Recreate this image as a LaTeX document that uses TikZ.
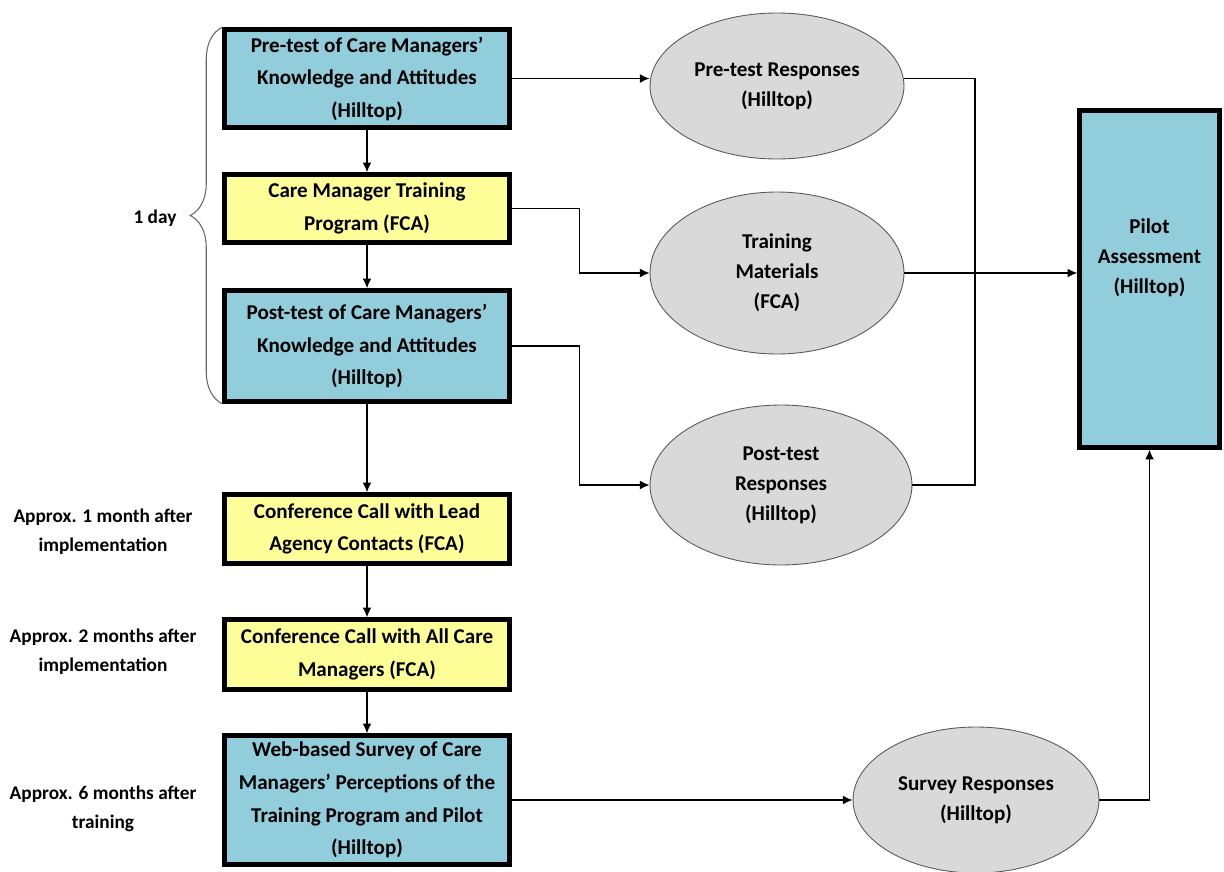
\documentclass[tikz,border=0pt]{standalone}
\usepackage{fontspec}
\setmainfont{Carlito}
\usetikzlibrary{shapes.geometric,decorations.pathreplacing,arrows.meta}
\definecolor{boxblue}{HTML}{92CDDC}
\definecolor{boxyellow}{HTML}{FFFF99}
\definecolor{ovalgray}{HTML}{D9D9D9}
\tikzstyle{bluebox}=[rectangle,draw,line width=2.6pt,fill=boxblue,align=center,minimum width=5.7cm,inner sep=0pt,font=\bfseries\fontsize{12}{18.5}\selectfont]
\tikzstyle{yellowbox}=[bluebox,fill=boxyellow]
\tikzstyle{oval}=[ellipse,draw=black!65,line width=0.5pt,fill=ovalgray,align=center,inner sep=0pt,font=\bfseries\fontsize{12}{17}\selectfont]
\tikzstyle{note}=[align=center,font=\bfseries\fontsize{11}{16.5}\selectfont]

\begin{document}
\begin{tikzpicture}[x=0.02cm,y=-0.02cm,>={Latex[length=5.5pt,width=5pt]},line width=0.7pt]
\useasboundingbox (0,0) rectangle (1224,872);
\node[bluebox,minimum height=1.96cm] at (367,78.5) (pre) {Pre-test of Care Managers’\\Knowledge and Attitudes\\(Hilltop)};
\node[yellowbox,minimum height=1.36cm] at (367,208.5) (train) {Care Manager Training\\Program (FCA)};
\node[bluebox,minimum height=2.22cm] at (367,346) (post) {Post-test of Care Managers’\\Knowledge and Attitudes\\(Hilltop)};
\node[yellowbox,minimum height=1.38cm] at (367,529) (lead) {Conference Call with Lead\\Agency Contacts (FCA)};
\node[yellowbox,minimum height=1.40cm] at (367,654.5) (allcm) {Conference Call with All Care\\Managers (FCA)};
\node[bluebox,minimum height=2.58cm] at (367,800) (survey) {Web-based Survey of Care\\Managers’ Perceptions of the\\Training Program and Pilot\\(Hilltop)};
\node[oval,minimum width=5.08cm,minimum height=2.92cm] at (777,86) (preresp) {Pre-test Responses\\(Hilltop)};
\node[oval,minimum width=5.08cm,minimum height=3.24cm] at (777,273) (materials) {Training\\Materials\\(FCA)};
\node[oval,minimum width=5.24cm,minimum height=3.2cm] at (781,485) (postresp) {Post-test\\Responses\\(Hilltop)};
\node[oval,minimum width=4.92cm,minimum height=2.92cm] at (976,800) (survresp) {Survey Responses\\(Hilltop)};
\node[bluebox,minimum width=2.8cm,minimum height=6.74cm,label={[note,font=\bfseries\fontsize{12}{17}\selectfont,yshift=0.42cm]center:Pilot\\Assessment\\(Hilltop)}] at (1149.5,279) (pilot) {};
\node[note] at (103,532) (when1) {Approx. 1 month after\\implementation};
\node[note] at (103,652) (when2) {Approx. 2 months after\\implementation};
\node[note] at (103,809) (when6) {Approx. 6 months after\\training};
\node[note] at (155,218) (day) {1 day};
\coordinate (rjoin) at (975,485);
\draw[decorate,decoration={brace,amplitude=0.64cm},black!60,line width=0.6pt] (post.south west) -- (pre.north west);
\draw[->] (pre) edge (train);
\draw[->] (train) edge (post);
\draw[->] (post) edge (lead);
\draw[->] (lead) edge (allcm);
\draw[->] (allcm) edge (survey);
\draw[->] (pre.east) -- (pre.east -| preresp.west);
\draw[->] (train.east) -- ++(68,0) |- (materials.west);
\draw[->] (post.east) -- ++(68,0) |- (postresp.west);
\draw[->] (survey.east) -- (survresp.west);
\draw (pre.east -| preresp.east) -| (rjoin) -- (postresp.east);
\draw[->] (materials.east) -- (materials.east -| pilot.west);
\draw[->] (survresp.east) -| (pilot.south);
\end{tikzpicture}
\end{document}
